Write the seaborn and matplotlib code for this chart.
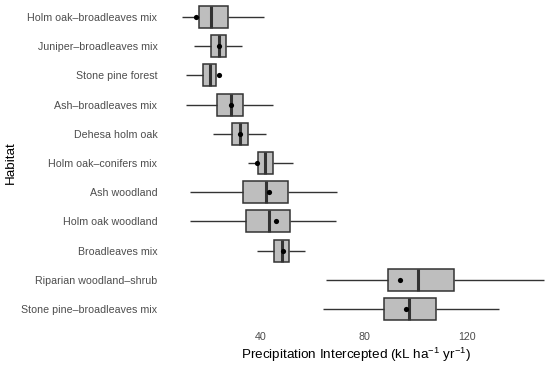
import numpy as np
import pandas as pd
import matplotlib
matplotlib.use("Agg")
import matplotlib.pyplot as plt
import seaborn as sns

habitats = [
    "Holm oak\u2013broadleaves mix",
    "Juniper\u2013broadleaves mix",
    "Stone pine forest",
    "Ash\u2013broadleaves mix",
    "Dehesa holm oak",
    "Holm oak\u2013conifers mix",
    "Ash woodland",
    "Holm oak woodland",
    "Broadleaves mix",
    "Riparian woodland\u2013shrub",
    "Stone pine\u2013broadleaves mix",
]
whisker_low = [9.2, 14.1, 10.8, 10.9, 21.4, 35.1, 12.5, 12.5, 38.6, 65.2, 64.1]
q1 = [16.0, 20.7, 17.4, 22.9, 28.6, 39.0, 33.1, 34.3, 45.2, 89.4, 87.6]
median = [20.7, 23.6, 20.1, 28.2, 31.7, 41.4, 41.9, 43.2, 48.0, 101.1, 97.6]
q3 = [27.1, 26.3, 22.4, 33.0, 34.8, 44.8, 50.5, 51.3, 50.9, 115.0, 108.1]
whisker_high = [41.0, 32.7, 22.4, 44.8, 41.9, 52.5, 69.4, 69.1, 57.1, 150.0, 132.5]
mean = [14.9, 23.6, 23.6, 28.3, 31.8, 38.6, 43.0, 45.8, 48.4, 94.0, 96.4]
x_ticks = [40, 80, 120]

rows = []
for i, h in enumerate(habitats):
    for v in (whisker_low[i], q1[i], median[i], q3[i], whisker_high[i]):
        rows.append({"Habitat": h, "value": v})
df = pd.DataFrame(rows)
df_mean = pd.DataFrame({"Habitat": habitats, "value": mean})

sns.set_theme(style="white")
plt.rcParams["font.family"] = ["Liberation Sans", "DejaVu Sans"]
plt.rcParams["mathtext.default"] = "regular"

fig = plt.figure(figsize=(5.5, 3.7), dpi=100)
ax = fig.add_axes([163 / 550, 44 / 370, (550 - 163) / 550, 326 / 370])

edge = "#333333"
sns.boxplot(
    data=df, x="value", y="Habitat", order=habitats, ax=ax,
    whis=(0, 100), width=0.75, color="#BEBEBE", saturation=1,
    linecolor=edge, linewidth=1.1,
    boxprops=dict(facecolor="#BEBEBE", edgecolor=edge),
    medianprops=dict(color=edge, linewidth=2.2),
    whiskerprops=dict(color=edge, linewidth=1.0),
    capprops=dict(linewidth=0),
    showfliers=False,
)
sns.scatterplot(data=df_mean, x="value", y="Habitat", ax=ax, color="black",
                s=14, linewidth=0, zorder=5, legend=False)

ax.set_xlim(1.94, 152.2)
ax.set_ylim(10.58, -0.58)
ax.set_xticks(x_ticks)
ax.set_xticklabels([str(t) for t in x_ticks])
for s in ax.spines.values():
    s.set_visible(False)
ax.tick_params(axis="both", length=0, colors="#4D4D4D", labelsize=7.7, pad=4)
ax.set_xlabel("Precipitation Intercepted (kL ha$^{-1}$ yr$^{-1}$)", fontsize=9.7, color="black", labelpad=3)
ax.set_ylabel("Habitat", fontsize=9.7, color="black", labelpad=3)
ax.grid(False)

fig.savefig("out.png", dpi=100)
